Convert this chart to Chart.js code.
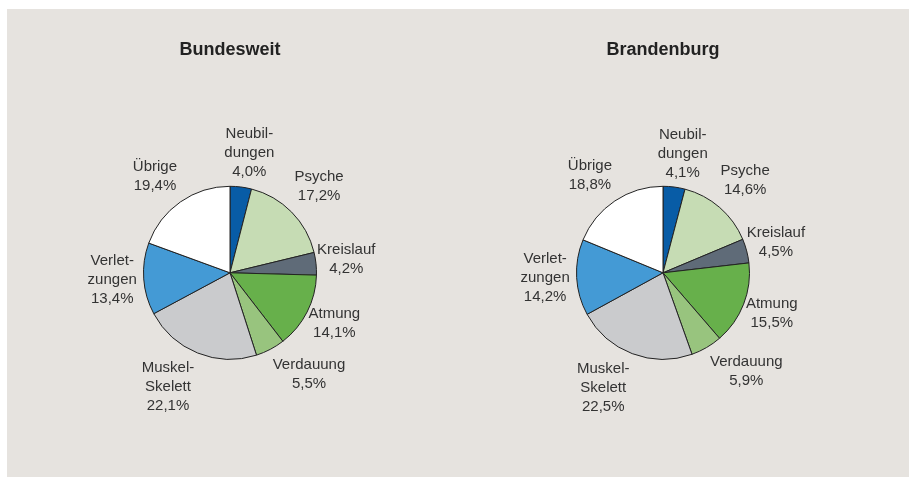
<!DOCTYPE html>
<html>
<head>
<meta charset="utf-8">
<script src="https://cdn.jsdelivr.net/npm/chart.js@4.4.1/dist/chart.umd.min.js"></script>
<style>
    body { margin: 0; background: #ffffff; }
    #panel {
        position: absolute; left: 7px; top: 9px;
        width: 902px; height: 468px;
        background: #e6e3df;
    }
    .pie { position: absolute; top: 0; width: 430px; height: 468px; }
    #pieLeft { left: 8px; }
    #pieRight { left: 441px; }
</style>
</head>
<body>
<div id="panel">
    <div class="pie" id="pieLeft"><canvas id="chartBund"></canvas></div>
    <div class="pie" id="pieRight"><canvas id="chartBrb"></canvas></div>
</div>
<script>
// categories, clockwise from 12 o'clock
const categories = [
    ["Neubil-", "dungen"],
    ["Psyche"],
    ["Kreislauf"],
    ["Atmung"],
    ["Verdauung"],
    ["Muskel-", "Skelett"],
    ["Verlet-", "zungen"],
    ["Übrige"]
];
const bundesweit = [4.0, 17.2, 4.2, 14.1, 5.5, 22.1, 13.4, 19.4];
const brandenburg = [4.1, 14.6, 4.5, 15.5, 5.9, 22.5, 14.2, 18.8];

const sliceColors = ["#085ca6", "#c6dcb4", "#5f6b78", "#67b04b", "#98c47e", "#cacbcd", "#449ad5", "#ffffff"];

// label placement: distance from centre and angle tweak (degrees) per slice
const labelDist = [121, 124, 117, 116, 129, 130, 118, 122];
const labelShift = [2, 0.5, -0.5, -1, -10, 6.5, 0.5, -3];

const fontFamily = "'Liberation Sans', Arial, sans-serif";

const sliceLabels = {
    id: "sliceLabels",
    afterDraw(chart) {
        const ctx = chart.ctx;
        const meta = chart.getDatasetMeta(0);
        const values = chart.data.datasets[0].data;
        ctx.save();
        ctx.font = "15px " + fontFamily;
        ctx.fillStyle = "#333333";
        ctx.textAlign = "center";
        ctx.textBaseline = "middle";
        meta.data.forEach((arc, i) => {
            const mid = (arc.startAngle + arc.endAngle) / 2 + labelShift[i] * Math.PI / 180;
            const x = arc.x + labelDist[i] * Math.cos(mid);
            const y = arc.y + labelDist[i] * Math.sin(mid);
            const lines = categories[i].concat([values[i].toFixed(1).replace(".", ",") + "%"]);
            const lh = 19;
            const top = y - (lines.length - 1) * lh / 2;
            lines.forEach((t, k) => ctx.fillText(t, x, top + k * lh));
        });
        ctx.restore();
    }
};

function makePie(canvasId, title, values) {
    new Chart(document.getElementById(canvasId), {
        type: "pie",
        data: {
            labels: categories,
            datasets: [{
                data: values,
                backgroundColor: sliceColors,
                borderColor: "#222222",
                borderWidth: 1,
                radius: 86.5
            }]
        },
        options: {
            responsive: true,
            maintainAspectRatio: false,
            animation: false,
            events: [],
            layout: { padding: 0 },
            plugins: {
                legend: { display: false },
                tooltip: { enabled: false },
                title: {
                    display: true,
                    text: title,
                    color: "#222222",
                    font: { family: fontFamily, size: 18, weight: "bold", lineHeight: 1.2 },
                    padding: { top: 30, bottom: 8 }
                }
            }
        },
        plugins: [sliceLabels]
    });
}

makePie("chartBund", "Bundesweit", bundesweit);
makePie("chartBrb", "Brandenburg", brandenburg);
</script>
</body>
</html>
